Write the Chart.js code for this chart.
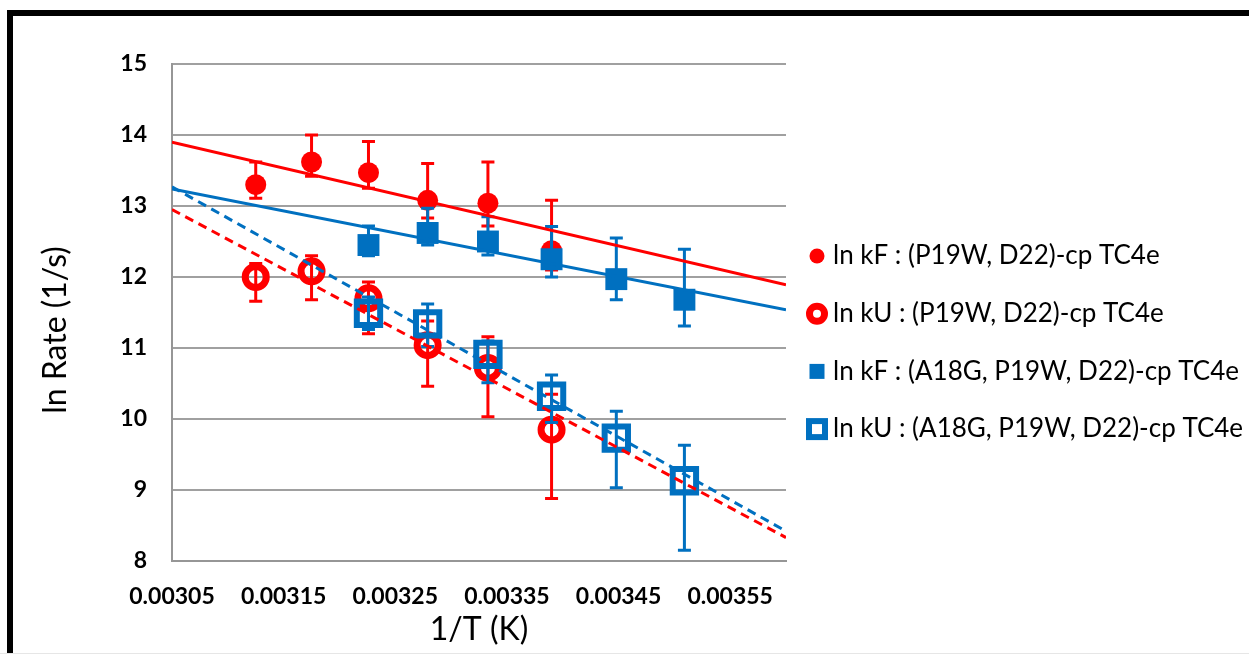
<!DOCTYPE html>
<html>
<head>
<meta charset="utf-8">
<script src="https://cdn.jsdelivr.net/npm/chart.js@4.4.0/dist/chart.umd.min.js"></script>
<style>
  html, body { margin: 0; padding: 0; background: #fff; }
  #wrap { position: relative; width: 1249px; height: 654px; }
</style>
</head>
<body>
<div id="wrap"><canvas id="arrhenius" width="1249" height="654"></canvas></div>
<script>
// 1/T for 320, 315, ... 285 K
const invT = [0.003125, 0.003175, 0.003226, 0.003279, 0.003333, 0.003390, 0.003448, 0.003509];

// (P19W, D22)-cp TC4e, measured at the six highest temperatures
const kF_P19W    = [13.30, 13.62, 13.47, 13.08, 13.04, 12.37];
const kF_P19W_hi = [13.62, 14.00, 13.91, 13.60, 13.62, 13.08];
const kF_P19W_lo = [13.11, 13.42, 13.25, 12.83, 12.72, 12.10];

const kU_P19W    = [12.00, 12.08, 11.70, 11.04, 10.72, 9.85];
const kU_P19W_hi = [12.19, 12.30, 11.93, 11.38, 11.16, 10.35];
const kU_P19W_lo = [11.66, 11.68, 11.20, 10.46, 10.03, 8.88];

// (A18G, P19W, D22)-cp TC4e, measured at the six lowest temperatures
const kF_A18G    = [12.45, 12.62, 12.50, 12.25, 11.97, 11.68];
const kF_A18G_hi = [12.72, 12.97, 12.85, 12.71, 12.55, 12.39];
const kF_A18G_lo = [12.30, 12.45, 12.31, 12.00, 11.68, 11.31];

const kU_A18G    = [11.49, 11.34, 10.91, 10.32, 9.73, 9.13];
const kU_A18G_hi = [11.72, 11.62, 11.10, 10.62, 10.11, 9.63];
const kU_A18G_lo = [11.26, 11.02, 10.51, 9.95, 9.03, 8.15];

// linear fits, evaluated at both ends of the x axis
const fitX        = [0.00305, 0.0036];
const fitKF_P19W  = [13.90, 11.89];
const fitKU_P19W  = [12.95, 8.33];
const fitKF_A18G  = [13.24, 11.54];
const fitKU_A18G  = [13.27, 8.42];

const xTicks = [0.00305, 0.00315, 0.00325, 0.00335, 0.00345, 0.00355];
const yTicks = [8, 9, 10, 11, 12, 13, 14, 15];

const RED = '#ff0000';
const BLUE = '#0070c0';
const FONT = 'Lato';

const pts = (xs, ys) => ys.map((v, i) => ({ x: xs[i], y: v }));
const P19W_X = invT.slice(0, 6);
const A18G_X = invT.slice(2, 8);

// vertical error bars, drawn just before each series' markers
const errorBars = {
  id: 'errorBars',
  beforeDatasetDraw(chart, args) {
    const ds = chart.data.datasets[args.index];
    if (!ds.errHi) return;
    const { ctx, scales: { x, y } } = chart;
    ctx.save();
    ctx.strokeStyle = ds.borderColor;
    ctx.lineWidth = 3;
    ds.data.forEach((p, i) => {
      const px = x.getPixelForValue(p.x);
      const top = y.getPixelForValue(ds.errHi[i]);
      const bot = y.getPixelForValue(ds.errLo[i]);
      ctx.beginPath();
      ctx.moveTo(px, top); ctx.lineTo(px, bot);
      ctx.moveTo(px - 6.5, top); ctx.lineTo(px + 6.5, top);
      ctx.moveTo(px - 6.5, bot); ctx.lineTo(px + 6.5, bot);
      ctx.stroke();
    });
    ctx.restore();
  }
};

// white page with the heavy black frame on top and left
const frame = {
  id: 'frame',
  beforeDraw(chart) {
    const { ctx, width, height } = chart;
    ctx.save();
    ctx.fillStyle = '#fff';
    ctx.fillRect(0, 0, width, height);
    ctx.fillStyle = '#000';
    ctx.fillRect(7, 10, width - 7, 6);
    ctx.fillRect(7, 10, 6, height - 10);
    ctx.fillStyle = '#e6e6e6';
    ctx.fillRect(0, height - 1, width, 1);
    ctx.restore();
  }
};

// axis titles and the legend at the right
const annotations = {
  id: 'annotations',
  afterDraw(chart) {
    const { ctx, chartArea } = chart;
    ctx.save();
    ctx.fillStyle = '#000';
    ctx.font = `32px ${FONT}`;
    ctx.textAlign = 'center';
    ctx.textBaseline = 'middle';
    ctx.fillText('1/T (K)', (chartArea.left + chartArea.right) / 2, 630);
    ctx.translate(56, 330);
    ctx.rotate(-Math.PI / 2);
    ctx.fillText('ln Rate (1/s)', 0, 0);
    ctx.restore();

    ctx.save();
    ctx.font = `26px ${FONT}`;
    ctx.textAlign = 'left';
    ctx.textBaseline = 'middle';
    const series = chart.data.datasets.filter(d => d.legendMark);
    series.forEach((d, i) => {
      const cy = 256 + i * 57.7;
      const cx = 817;
      ctx.fillStyle = d.borderColor;
      ctx.strokeStyle = d.borderColor;
      if (d.legendMark === 'dot') {
        ctx.beginPath(); ctx.arc(cx, cy, 7.5, 0, Math.PI * 2); ctx.fill();
      } else if (d.legendMark === 'ring') {
        ctx.lineWidth = 7;
        ctx.beginPath(); ctx.arc(cx, cy, 7.5, 0, Math.PI * 2); ctx.stroke();
      } else if (d.legendMark === 'square') {
        ctx.fillRect(cx - 7.5, cy - 7.5, 15, 15);
      } else {
        ctx.lineWidth = 6;
        ctx.strokeRect(cx - 8, cy - 8, 16, 16);
      }
      ctx.fillStyle = '#000';
      ctx.fillText(d.label, 833, cy);
    });
    ctx.restore();
  }
};

new Chart(document.getElementById('arrhenius'), {
  type: 'scatter',
  data: {
    datasets: [
      {
        label: 'ln kF : (P19W, D22)-cp TC4e', legendMark: 'dot', order: 8,
        data: pts(P19W_X, kF_P19W), errHi: kF_P19W_hi, errLo: kF_P19W_lo,
        pointStyle: 'circle', pointRadius: 10.5, backgroundColor: RED,
        borderColor: RED, borderWidth: 0
      },
      {
        label: 'ln kU : (P19W, D22)-cp TC4e', legendMark: 'ring', order: 7,
        data: pts(P19W_X, kU_P19W), errHi: kU_P19W_hi, errLo: kU_P19W_lo,
        pointStyle: 'circle', pointRadius: 10.5, backgroundColor: 'rgba(0,0,0,0)',
        borderColor: RED, borderWidth: 7
      },
      {
        label: 'ln kF : (A18G, P19W, D22)-cp TC4e', legendMark: 'square', order: 6,
        data: pts(A18G_X, kF_A18G), errHi: kF_A18G_hi, errLo: kF_A18G_lo,
        pointStyle: 'rect', pointRadius: 15.5, backgroundColor: BLUE,
        borderColor: BLUE, borderWidth: 0
      },
      {
        label: 'ln kU : (A18G, P19W, D22)-cp TC4e', legendMark: 'box', order: 5,
        data: pts(A18G_X, kU_A18G), errHi: kU_A18G_hi, errLo: kU_A18G_lo,
        pointStyle: 'rect', pointRadius: 16.5, backgroundColor: 'rgba(0,0,0,0)',
        borderColor: BLUE, borderWidth: 6
      },
      {
        type: 'line', order: 4, data: pts(fitX, fitKF_P19W),
        borderColor: RED, borderWidth: 3, pointRadius: 0
      },
      {
        type: 'line', order: 3, data: pts(fitX, fitKU_P19W),
        borderColor: RED, borderWidth: 3, borderDash: [9, 6], pointRadius: 0
      },
      {
        type: 'line', order: 2, data: pts(fitX, fitKF_A18G),
        borderColor: BLUE, borderWidth: 3, pointRadius: 0
      },
      {
        type: 'line', order: 1, data: pts(fitX, fitKU_A18G),
        borderColor: BLUE, borderWidth: 3, borderDash: [9, 6], pointRadius: 0
      }
    ]
  },
  options: {
    responsive: false,
    animation: false,
    events: [],
    layout: { padding: { left: 0, top: 64, right: 463, bottom: 0 } },
    plugins: { legend: { display: false }, tooltip: { enabled: false } },
    scales: {
      x: {
        type: 'linear', min: 0.00305, max: 0.0036,
        afterBuildTicks: s => { s.ticks = xTicks.map(v => ({ value: v })); },
        afterFit: s => { s.height = 93; },
        grid: { display: false, drawTicks: false },
        border: { display: true, color: '#969696', width: 2 },
        ticks: {
          padding: 22, color: '#000', maxRotation: 0, autoSkip: false,
          font: { family: FONT, size: 23, weight: 'bold' },
          callback: v => v.toFixed(5)
        }
      },
      y: {
        min: 8, max: 15,
        afterBuildTicks: s => { s.ticks = yTicks.map(v => ({ value: v })); },
        afterFit: s => { s.width = 172; },
        grid: { color: '#a0a0a0', lineWidth: 2, drawTicks: false },
        border: { display: true, color: '#969696', width: 2 },
        ticks: {
          padding: 25, color: '#000',
          font: { family: FONT, size: 23, weight: 'bold' },
          callback: v => String(v)
        }
      }
    }
  },
  plugins: [frame, errorBars, annotations]
});
</script>
</body>
</html>
